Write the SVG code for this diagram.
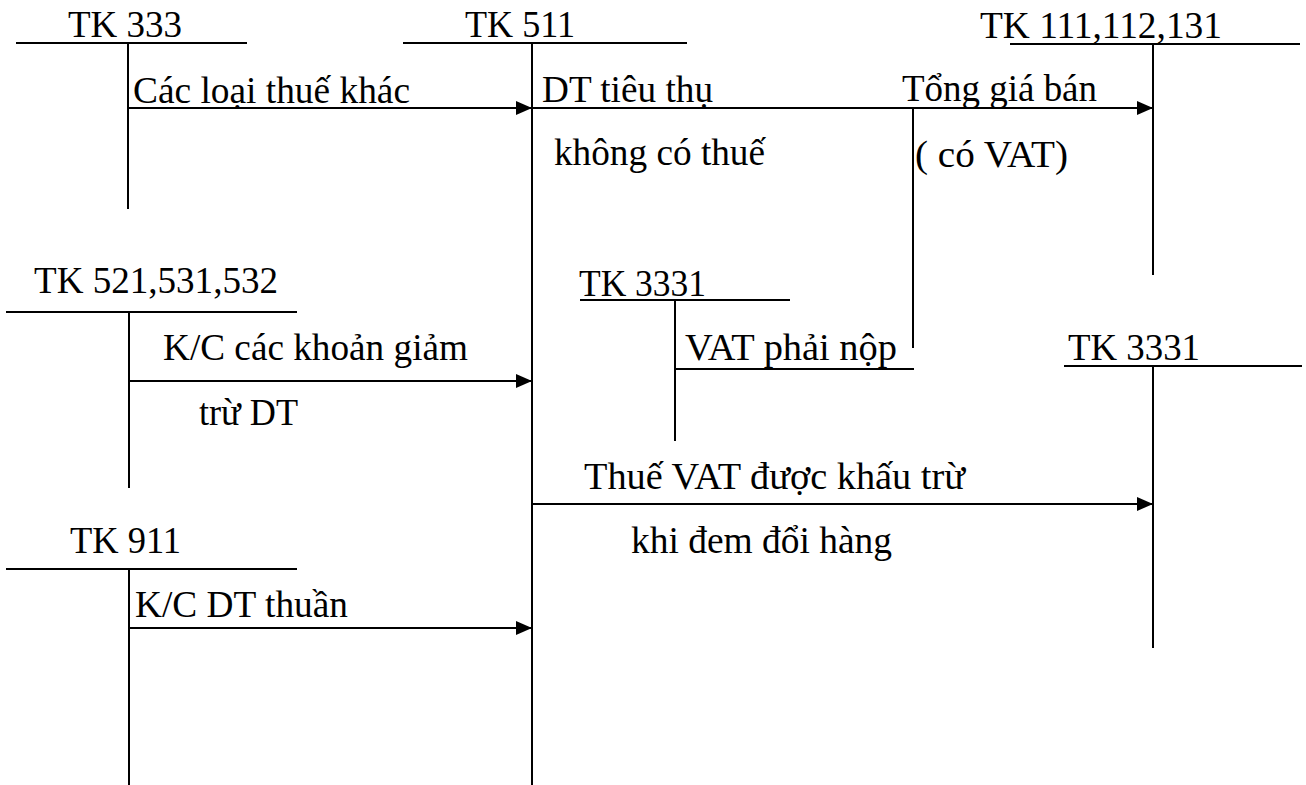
<svg xmlns="http://www.w3.org/2000/svg" width="1306" height="785" viewBox="0 0 1306 785">
<style>
text{font-family:'Liberation Serif','Times New Roman',serif;font-size:37px;fill:#000}
line{stroke:#000;stroke-width:2;fill:none}
.arr{marker-end:url(#ah)}
</style>
<defs>
<marker id="ah" markerUnits="userSpaceOnUse" markerWidth="16" markerHeight="16" viewBox="0 0 16 16" refX="16" refY="8" orient="auto">
<path d="M0,1 L16,8 L0,15 z" fill="#000"/>
</marker>
</defs>
<rect width="1306" height="785" fill="#fff"/>
<g id="tk333">
<text x="68" y="37" textLength="114" lengthAdjust="spacingAndGlyphs">TK 333</text>
<line x1="16" y1="43" x2="247" y2="43"/>
<line x1="128" y1="43" x2="128" y2="209"/>
</g>
<g id="tk511">
<text x="465" y="37" textLength="110" lengthAdjust="spacingAndGlyphs">TK 511</text>
<line x1="403" y1="43" x2="687" y2="43"/>
<line x1="532" y1="43" x2="532" y2="785"/>
</g>
<g id="tk111">
<text x="980" y="38" textLength="242" lengthAdjust="spacingAndGlyphs">TK 111,112,131</text>
<line x1="1010" y1="44" x2="1300" y2="44"/>
<line x1="1153" y1="44" x2="1153" y2="275"/>
</g>
<g id="tk521">
<text x="34" y="293" textLength="244" lengthAdjust="spacingAndGlyphs">TK 521,531,532</text>
<line x1="6" y1="312" x2="297" y2="312"/>
<line x1="129" y1="312" x2="129" y2="488"/>
</g>
<g id="tk3331a">
<text x="579" y="296" textLength="127" lengthAdjust="spacingAndGlyphs">TK 3331</text>
<line x1="580" y1="300" x2="790" y2="300"/>
<line x1="675" y1="300" x2="675" y2="441"/>
</g>
<g id="tk3331b">
<text x="1068" y="360" textLength="132" lengthAdjust="spacingAndGlyphs">TK 3331</text>
<line x1="1064" y1="366" x2="1302" y2="366"/>
<line x1="1153" y1="366" x2="1153" y2="648"/>
</g>
<g id="tk911">
<text x="70" y="553" textLength="111" lengthAdjust="spacingAndGlyphs">TK 911</text>
<line x1="6" y1="569" x2="297" y2="569"/>
<line x1="129" y1="569" x2="129" y2="785"/>
</g>
<g id="connectors">
<line class="arr" x1="128" y1="108" x2="532" y2="108"/>
<text x="133" y="103" textLength="277" lengthAdjust="spacingAndGlyphs">Các loại thuế khác</text>
<line class="arr" x1="532" y1="108" x2="1153" y2="108"/>
<text x="542" y="102" textLength="171" lengthAdjust="spacingAndGlyphs">DT tiêu thụ</text>
<text x="554" y="165" textLength="211" lengthAdjust="spacingAndGlyphs">không có thuế</text>
<text x="902" y="101" textLength="195" lengthAdjust="spacingAndGlyphs">Tổng giá bán</text>
<text x="915" y="167" textLength="153" lengthAdjust="spacingAndGlyphs">( có VAT)</text>
<line x1="913" y1="108" x2="913" y2="348"/>
<line x1="675" y1="369" x2="914" y2="369"/>
<text x="685" y="360" textLength="212" lengthAdjust="spacingAndGlyphs">VAT phải nộp</text>
<line class="arr" x1="129" y1="381" x2="532" y2="381"/>
<text x="163" y="360" textLength="305" lengthAdjust="spacingAndGlyphs">K/C các khoản giảm</text>
<text x="199" y="425" textLength="99" lengthAdjust="spacingAndGlyphs">trừ DT</text>
<line class="arr" x1="532" y1="504" x2="1153" y2="504"/>
<text x="584" y="489" textLength="381" lengthAdjust="spacingAndGlyphs">Thuế VAT được khấu trừ</text>
<text x="631" y="553" textLength="261" lengthAdjust="spacingAndGlyphs">khi đem đổi hàng</text>
<line class="arr" x1="129" y1="628" x2="532" y2="628"/>
<text x="135" y="617" textLength="213" lengthAdjust="spacingAndGlyphs">K/C DT thuần</text>
</g>
</svg>
